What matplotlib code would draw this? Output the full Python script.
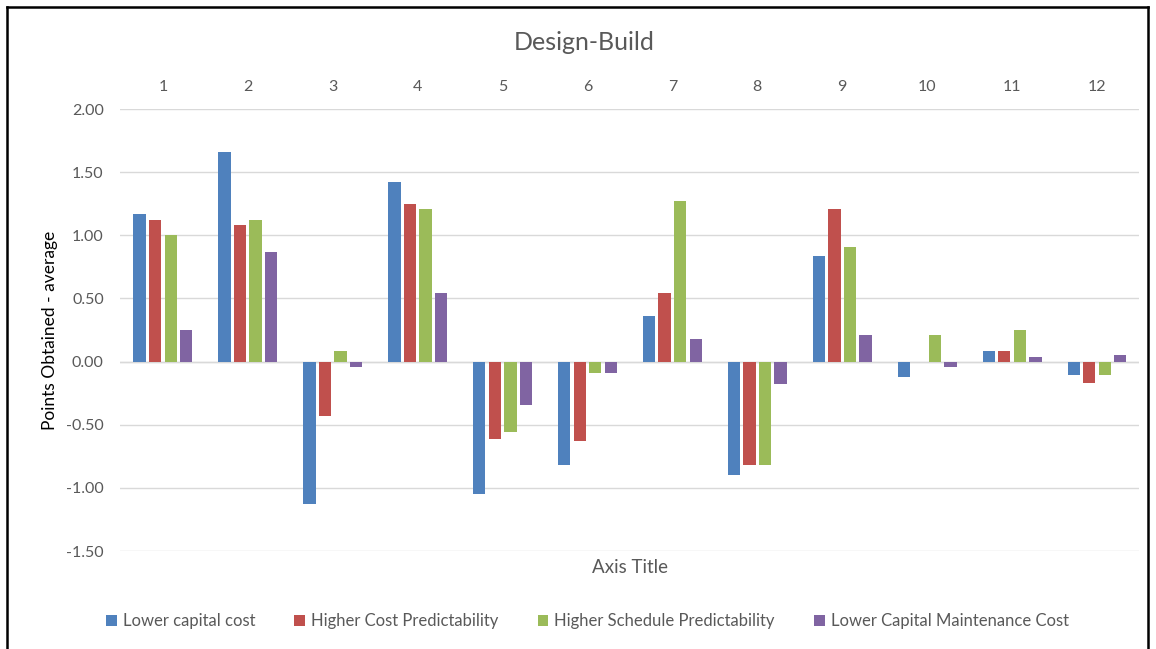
import numpy as np
import matplotlib.pyplot as plt
from matplotlib.lines import Line2D

plt.rcParams['font.family'] = ['Lato', 'DejaVu Sans']

categories = [str(i) for i in range(1, 13)]
series_names = ["Lower capital cost", "Higher Cost Predictability",
                "Higher Schedule Predictability", "Lower Capital Maintenance Cost"]
lower_capital_cost = [1.17, 1.66, -1.13, 1.42, -1.05, -0.82, 0.36, -0.90, 0.84, -0.12, 0.08, -0.11]
higher_cost_pred = [1.12, 1.08, -0.43, 1.25, -0.61, -0.63, 0.54, -0.82, 1.21, 0.00, 0.08, -0.17]
higher_schedule_pred = [1.00, 1.12, 0.08, 1.21, -0.56, -0.09, 1.27, -0.82, 0.91, 0.21, 0.25, -0.11]
lower_maint_cost = [0.25, 0.87, -0.04, 0.54, -0.34, -0.09, 0.18, -0.18, 0.21, -0.04, 0.04, 0.05]
yticks = [2.0, 1.5, 1.0, 0.5, 0.0, -0.5, -1.0, -1.5]

colors = ["#4F81BD", "#C0504D", "#9BBB59", "#8064A2"]
text_color = "#595959"

fig = plt.figure(figsize=(11.56, 6.49), dpi=100)
ax = fig.add_axes([0.1042, 0.151, 0.8815, 0.681])

x = np.arange(len(categories))
pitch = 0.183
width = 0.145
all_series = [lower_capital_cost, higher_cost_pred, higher_schedule_pred, lower_maint_cost]
for i, (vals, name, c) in enumerate(zip(all_series, series_names, colors)):
    ax.bar(x + (i - 1.5) * pitch, vals, width, color=c, label=name, zorder=3)

ax.set_xlim(-0.5, len(categories) - 0.5)
ax.set_ylim(-1.5, 2.0)
ax.set_yticks(yticks)
ax.set_yticklabels([f"{v:.2f}" for v in yticks])
ax.yaxis.grid(True, color="#D9D9D9", linewidth=1, zorder=0)
ax.axhline(0, color="#D9D9D9", linewidth=1, zorder=1)
for s in ax.spines.values():
    s.set_visible(False)

ax.xaxis.tick_top()
ax.set_xticks(x)
ax.set_xticklabels(categories)
ax.tick_params(axis='x', length=0, pad=11, labelsize=11.5, colors=text_color)
ax.tick_params(axis='y', length=0, pad=12, labelsize=11.5, colors=text_color)

ax.set_ylabel("Points Obtained - average", fontsize=12.5, color="black", labelpad=6)
fig.text(0.505, 0.934, "Design-Build", ha='center', va='center', fontsize=18, color=text_color)
fig.text(0.545, 0.125, "Axis Title", ha='center', va='center', fontsize=13.5, color=text_color)

fig.legend(loc='center', bbox_to_anchor=(0.508, 0.043), ncol=4, frameon=False,
           fontsize=12, handlelength=0.65, handleheight=0.65, handletextpad=0.35,
           columnspacing=2.35, labelcolor=text_color)

# frame around the chart
for xs, ys in [((0.006, 0.006), (0.0, 0.989)), ((0.006, 0.993), (0.989, 0.989)),
               ((0.993, 0.993), (0.0, 0.989))]:
    fig.add_artist(Line2D(xs, ys, color="black", linewidth=1.8, transform=fig.transFigure))

fig.savefig("out.png", dpi=100)
